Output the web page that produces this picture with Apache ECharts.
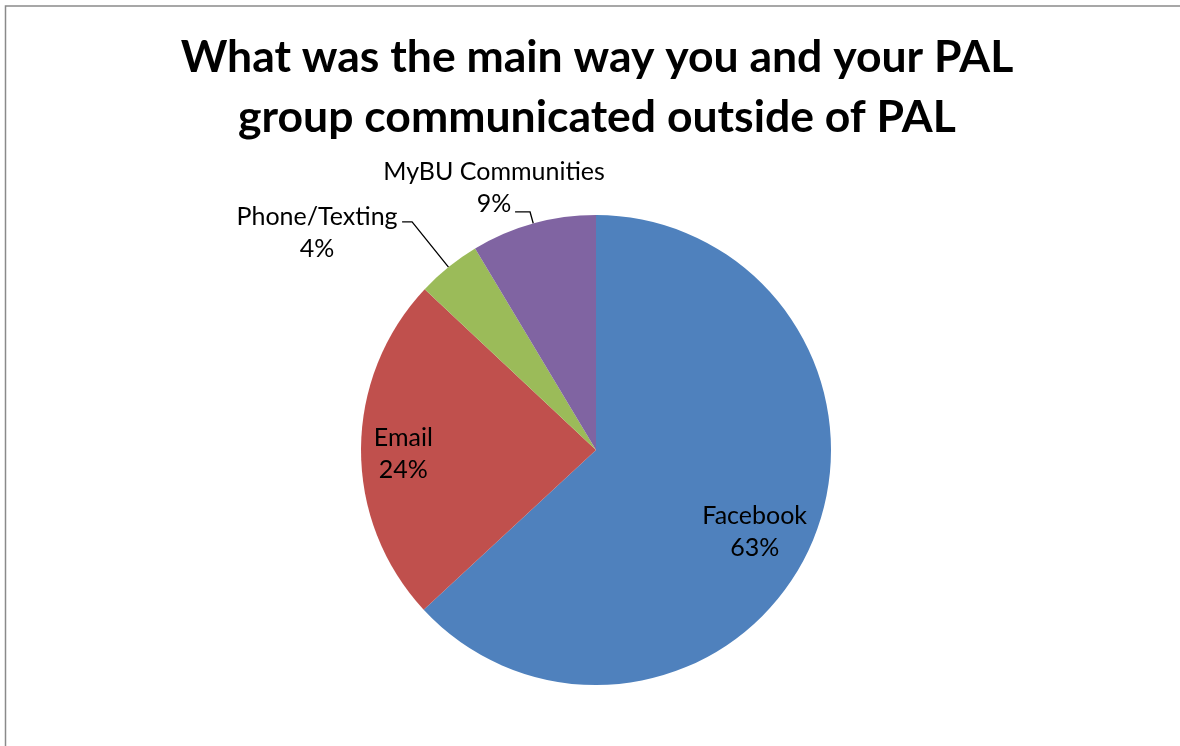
<!DOCTYPE html>
<html>
<head>
<meta charset="utf-8">
<style>
  html, body { margin: 0; padding: 0; background: #ffffff; }
  #chart { width: 1180px; height: 746px; }
</style>
<script src="https://cdn.jsdelivr.net/npm/echarts@6/dist/echarts.min.js"></script>
</head>
<body>
<div id="chart"></div>
<script>
// ---- data ----
const titleText = 'What was the main way you and your PAL\ngroup communicated outside of PAL';
const categories = ['Facebook', 'Email', 'Phone/Texting', 'MyBU Communities'];
const shares = [63.1, 23.9, 4.4, 8.6];
const colors = ['#4F81BD', '#C0504D', '#9BBB59', '#8064A2'];

// ---- style / layout constants ----
const W = 1180, H = 746;
const CX = 596, CY = 450, R = 235;
const FONT = 'Lato, "Open Sans", sans-serif';
// inside labels: distance from centre as fraction of radius, plus a small nudge
const insideStyle = {
  'Facebook': { k: 0.76, dx: -5, dy: 10 },
  'Email':    { k: 0.82, dx: 0,  dy: 5 }
};
// outside labels: leader line lengths and label offset from line end
const outsideStyle = {
  'Phone/Texting':    { length: 58, length2: 10, dx: -85, dy: 11 },
  'MyBU Communities': { length: 12, length2: 15, dx: -21, dy: -24 }
};

const chart = echarts.init(document.getElementById('chart'), null, { renderer: 'canvas' });

const seriesData = categories.map((name, i) => {
  const item = { name: name, value: shares[i], itemStyle: { color: colors[i] } };
  if (outsideStyle[name]) {
    item.label = { position: 'outside' };
    item.labelLine = {
      show: true,
      length: outsideStyle[name].length,
      length2: outsideStyle[name].length2
    };
  } else {
    item.label = { position: 'inside' };
    item.labelLine = { show: false };
  }
  return item;
});

const option = {
  backgroundColor: '#ffffff',
  animation: false,
  title: {
    text: titleText,
    left: 597,
    textAlign: 'center',
    top: 28,
    padding: 0,
    textStyle: {
      fontFamily: FONT,
      fontWeight: 'bold',
      fontSize: 44.5,
      lineHeight: 60,
      color: '#000000'
    }
  },
  graphic: [{
    type: 'rect',
    silent: true,
    shape: { x: 5.5, y: 6, width: 1300, height: 900 },
    style: { fill: 'none', stroke: '#8a8a8a', lineWidth: 1.5 }
  }],
  series: [{
    type: 'pie',
    center: [CX, CY],
    radius: [0, R],
    startAngle: 90,
    clockwise: true,
    avoidLabelOverlap: false,
    percentPrecision: 0,
    itemStyle: { borderWidth: 0 },
    emphasis: { disabled: true },
    label: {
      show: true,
      formatter: '{n|{b}}\n{n|{d}%}',
      color: '#000000',
      fontFamily: FONT,
      fontSize: 25,
      lineHeight: 32,
      rich: {
        n: { fontFamily: FONT, fontSize: 25, lineHeight: 32, color: '#000000', align: 'center' }
      }
    },
    labelLine: {
      lineStyle: { color: '#000000', width: 1.3 }
    },
    labelLayout: function (p) {
      const name = categories[p.dataIndex];
      const lr = p.labelRect;
      const ins = insideStyle[name];
      if (ins) {
        const lx = lr.x + lr.width / 2, ly = lr.y + lr.height / 2;
        const dx = lx - CX, dy = ly - CY;
        const d = Math.sqrt(dx * dx + dy * dy) || 1;
        const k = ins.k * R / d;
        return { x: CX + dx * k + ins.dx, y: CY + dy * k + ins.dy, align: 'center', verticalAlign: 'middle' };
      }
      const st = outsideStyle[name];
      const pts = p.labelLinePoints;
      if (st && pts) {
        const end = pts[pts.length - 1];
        return {
          x: end[0] + st.dx,
          y: end[1] + st.dy,
          align: 'center',
          verticalAlign: 'middle',
          labelLinePoints: pts
        };
      }
      return {};
    },
    data: seriesData
  }]
};

chart.setOption(option);
</script>
</body>
</html>
